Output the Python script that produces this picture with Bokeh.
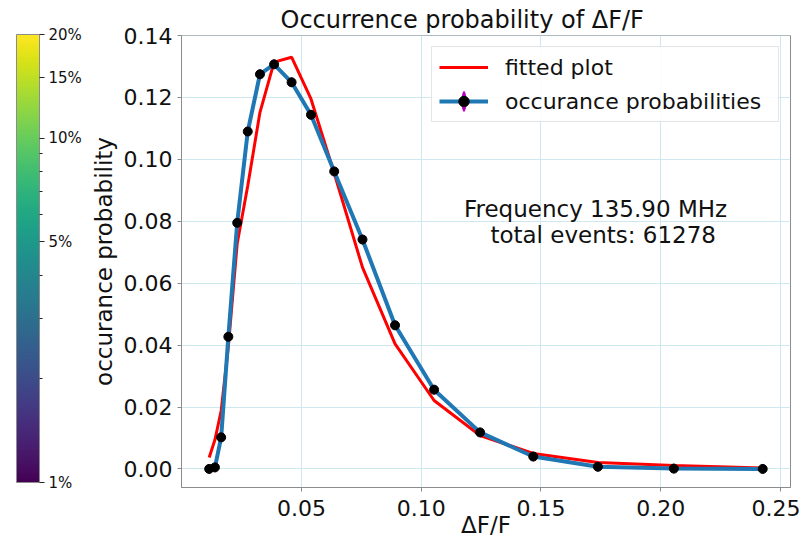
import numpy as np
from bokeh.plotting import figure
from bokeh.models import (ColumnDataSource, Legend, LegendItem, Label, ColorBar,
                          LogColorMapper, FixedTicker, PrintfTickFormatter, Range1d)
from bokeh.palettes import Viridis256
from bokeh.embed import file_html
from bokeh.resources import INLINE

# ---- data ----
delta_f = [0.0115, 0.0139, 0.0165, 0.0195, 0.0232, 0.0276, 0.0327, 0.0386, 0.0459, 0.0540,
           0.0637, 0.0755, 0.0891, 0.1054, 0.1246, 0.1468, 0.1738, 0.2055, 0.2426]
occurrence = [0.0000, 0.0005, 0.0102, 0.0427, 0.0795, 0.1090, 0.1275, 0.1307, 0.1249, 0.1144,
              0.0961, 0.0741, 0.0464, 0.0256, 0.0118, 0.0040, 0.0007, 0.0001, 0.0000]
fitted = [0.0037, 0.0094, 0.0188, 0.0395, 0.0728, 0.0915, 0.1152, 0.1314, 0.1330, 0.1195,
          0.0955, 0.0651, 0.0404, 0.0221, 0.0108, 0.0050, 0.0021, 0.0011, 0.0003]
x_ticks = [0.05, 0.10, 0.15, 0.20, 0.25]
y_ticks = [0.00, 0.02, 0.04, 0.06, 0.08, 0.10, 0.12, 0.14]
cbar_ticks = [1, 5, 10, 15, 20]
cbar_minor = [2, 3, 4, 6, 7, 8, 9]
info_lines = ["Frequency 135.90 MHz", "total events: 61278"]

FONT = "DejaVu Sans"
GRID = "#cde9ef"
SPINE = "#8c8c8c"
TXT = "#111111"

src = ColumnDataSource(dict(x=delta_f, occ=occurrence, fit=fitted))

p = figure(width=800, height=545, output_backend="svg", toolbar_location=None,
           x_range=Range1d(-0.00006, 0.2542), y_range=Range1d(-0.0060, 0.14001),
           min_border_left=181, min_border_right=10, min_border_top=35, min_border_bottom=58,
           title="Occurrence probability of ΔF/F")

p.title.text_font = FONT
p.title.text_font_size = "24px"
p.title.text_font_style = "normal"
p.title.text_color = TXT
p.title.align = "left"
p.title.offset = 99
p.title.standoff = 4

p.outline_line_color = SPINE
p.outline_line_width = 1
p.background_fill_color = "white"

for ax in (p.xaxis[0], p.yaxis[0]):
    ax.axis_line_color = SPINE
    ax.major_tick_line_color = SPINE
    ax.major_tick_out = 4
    ax.major_tick_in = 0
    ax.minor_tick_line_color = None
    ax.major_label_text_font = FONT
    ax.major_label_text_font_size = "22px"
    ax.major_label_text_color = TXT
    ax.axis_label_text_font = FONT
    ax.axis_label_text_font_size = "23px"
    ax.axis_label_text_font_style = "normal"
    ax.axis_label_text_color = TXT

p.xaxis.ticker = FixedTicker(ticks=x_ticks)
p.yaxis.ticker = FixedTicker(ticks=y_ticks)
p.xaxis.formatter = PrintfTickFormatter(format="%.2f")
p.yaxis.formatter = PrintfTickFormatter(format="%.2f")
p.xaxis.axis_label = "ΔF/F"
p.yaxis.axis_label = "occurance probability"
p.xaxis.major_label_standoff = 8
p.xaxis.axis_label_standoff = -7
p.yaxis.major_label_standoff = 5
p.yaxis.axis_label_standoff = 4

p.xgrid.ticker = FixedTicker(ticks=x_ticks)
p.ygrid.ticker = FixedTicker(ticks=y_ticks)
p.grid.grid_line_color = GRID
p.grid.grid_line_width = 1

r_fit = p.line(x="x", y="fit", source=src, line_color="#ff0000", line_width=3)
r_occ = p.line(x="x", y="occ", source=src, line_color="#1f77b4", line_width=4)
# error bars (tiny, hidden behind the markers; they give the legend its magenta bar)
r_err = p.ellipse(x="x", y="occ", source=src, width=2.4, height=10,
                  width_units="screen", height_units="screen",
                  fill_color="#bf00bf", line_color=None)
r_pts = p.scatter(x="x", y="occ", source=src, marker="circle", size=9,
                  fill_color="black", line_color="black")

legend = Legend(items=[LegendItem(label="fitted plot", renderers=[r_fit]),
                       LegendItem(label="occurance probabilities", renderers=[r_occ, r_err, r_pts])],
                location="top_right", margin=11, padding=7, spacing=8,
                glyph_width=49, glyph_height=26, label_height=26, label_width=266,
                label_standoff=17,
                label_text_font=FONT, label_text_font_size="22px", label_text_color=TXT,
                border_line_color="#cccccc", border_line_width=1, background_fill_alpha=0.85)
p.add_layout(legend)

p.add_layout(Label(x=0.1728, y=0.0840, text=info_lines[0], text_align="center",
                   text_baseline="alphabetic", text_font=FONT, text_font_size="23px",
                   text_color=TXT))
p.add_layout(Label(x=0.1760, y=0.0756, text=info_lines[1], text_align="center",
                   text_baseline="alphabetic", text_font=FONT, text_font_size="23px",
                   text_color=TXT))

mapper = LogColorMapper(palette=Viridis256, low=1, high=20)
cb = ColorBar(color_mapper=mapper,
              ticker=FixedTicker(ticks=cbar_ticks, minor_ticks=cbar_minor),
              formatter=PrintfTickFormatter(format="%d%%"),
              width=23, height=448, location=(-165, 5), margin=0, padding=0,
              background_fill_alpha=0,
              major_label_text_font=FONT, major_label_text_font_size="15px",
              major_label_text_color=TXT,
              major_tick_in=0, major_tick_out=5, major_tick_line_color="#222222",
              minor_tick_in=0, minor_tick_out=3, minor_tick_line_color="#222222",
              label_standoff=4, bar_line_color=SPINE, bar_line_width=1)
p.add_layout(cb)

open("out.html", "w").write(file_html(p, INLINE))
